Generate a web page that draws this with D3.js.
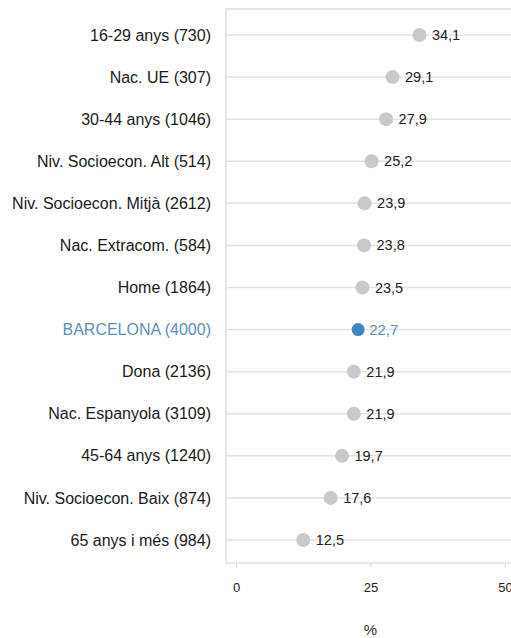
<!DOCTYPE html>
<html><head><meta charset="utf-8">
<script src="https://cdn.jsdelivr.net/npm/d3@7"></script>
<style>body{margin:0;background:#fff;overflow:hidden}</style>
</head><body>
<script>
const categories = ["16-29 anys (730)","Nac. UE (307)","30-44 anys (1046)","Niv. Socioecon. Alt (514)","Niv. Socioecon. Mitjà (2612)","Nac. Extracom. (584)","Home (1864)","BARCELONA (4000)","Dona (2136)","Nac. Espanyola (3109)","45-64 anys (1240)","Niv. Socioecon. Baix (874)","65 anys i més (984)"];
const values = [34.1,29.1,27.9,25.2,23.9,23.8,23.5,22.7,21.9,21.9,19.7,17.6,12.5];
const highlight = "BARCELONA (4000)";
const xTicks = [0,25,50];
const xTitle = "%";

const W = 511, H = 638;
const svg = d3.select("body").append("svg").attr("width", W).attr("height", H)
  .style("font-family","'Liberation Sans', Arial, sans-serif");

const panel = {left:226, top:9, bottom:563, right:530};
const x = d3.scaleLinear().domain([0,50]).range([236,505]);
const y = d3.scalePoint().domain(categories).range([35,540]);

// panel border
svg.append("line").attr("x1",panel.left).attr("x2",panel.right).attr("y1",panel.top).attr("y2",panel.top).attr("stroke","#e0e0e0").attr("stroke-width",1.5);
svg.append("line").attr("x1",panel.left).attr("x2",panel.right).attr("y1",panel.bottom).attr("y2",panel.bottom).attr("stroke","#e0e0e0").attr("stroke-width",1.5);
svg.append("line").attr("x1",panel.left).attr("x2",panel.left).attr("y1",panel.top).attr("y2",panel.bottom).attr("stroke","#e0e0e0").attr("stroke-width",1.5);

// gridlines
svg.append("g").selectAll("line").data(categories).join("line")
  .attr("x1",panel.left).attr("x2",panel.right)
  .attr("y1",d=>y(d)).attr("y2",d=>y(d))
  .attr("stroke","#e3e3e3").attr("stroke-width",1.5);

// x axis
const xAxis = d3.axisBottom(x).tickValues(xTicks).tickSize(4).tickPadding(16).tickFormat(d3.format("d"));
const gx = svg.append("g").attr("transform",`translate(0,${panel.bottom})`).call(xAxis);
gx.select(".domain").remove();
gx.selectAll(".tick line").attr("stroke","#d8d8d8");
gx.selectAll(".tick text").attr("fill","#222").style("font-size","13px");

svg.append("text").attr("x",x(25)).attr("y",635).attr("text-anchor","middle")
  .attr("fill","#333").style("font-size","15px").text(xTitle);

// y labels
const yAxis = d3.axisLeft(y).tickSize(0).tickPadding(15);
const gy = svg.append("g").attr("transform",`translate(${panel.left},0)`).call(yAxis);
gy.select(".domain").remove();
gy.selectAll(".tick text").style("font-size","16px")
  .attr("fill",d=>d===highlight?"#5a8fbd":"#1a1a1a");

const data = categories.map((c,i)=>({c, v:values[i]}));
// points
svg.append("g").selectAll("circle").data(data).join("circle")
  .attr("cx",d=>x(d.v)).attr("cy",d=>y(d.c))
  .attr("r",d=>d.c===highlight?6.5:7)
  .attr("fill",d=>d.c===highlight?"#3d85c6":"#c9c9c9");

// value labels
svg.append("g").selectAll("text").data(data).join("text")
  .attr("x",d=>x(d.v)+(d.c===highlight?11:12.5)).attr("y",d=>y(d.c)).attr("dy","0.35em")
  .style("font-size",d=>d.c===highlight?"15px":"14.5px")
  .attr("fill",d=>d.c===highlight?"#5a8fbd":"#222")
  .text(d=>d3.format(".1f")(d.v).replace(".",","));
</script>
</body></html>
